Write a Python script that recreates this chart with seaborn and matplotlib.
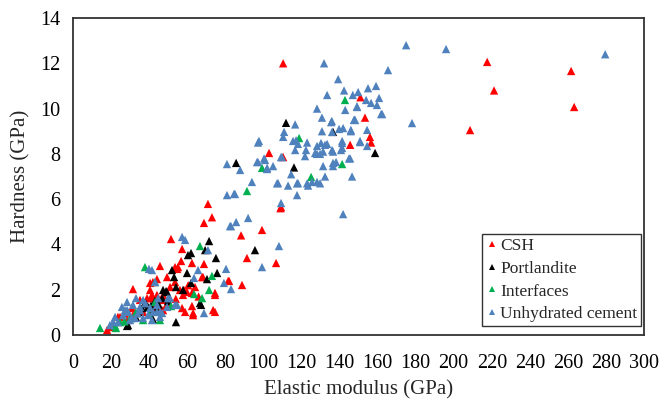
import pandas as pd
import matplotlib
matplotlib.use("Agg")
import matplotlib.pyplot as plt
import seaborn as sns

# --- data (Elastic modulus GPa, Hardness GPa) ---
csh_E = [110.4, 217.6, 221.2, 261.7, 263.3, 208.6, 153.4, 156.0, 156.6, 145.6, 151.0,
         103.0, 110.4, 109.0, 88.3, 99.3, 91.4, 106.7, 70.9, 68.8, 73.0, 51.5, 57.3,
         45.7, 56.8, 62.5, 68.8, 49.4, 55.2, 44.1, 67.8, 82.0, 88.8, 74.6, 74.6, 58.3,
         31.5, 42.0, 40.5, 17.9, 19.4, 24.7, 63.1, 73.6, 54.7, 40.5, 44.1, 47.3, 51.0,
         56.2, 57.8, 59.9, 62.5, 57.3, 58.9, 63.1, 62.5, 51.0, 47.3, 43.1, 41.5, 74.6,
         68.3, 64.1, 53.6, 21.0, 23.6, 27.3, 31.0, 35.2, 38.9, 41.5, 44.1, 45.7, 47.3,
         36.8, 31.5, 28.4, 53.6, 81.5, 109.3, 66.0, 60.5, 49.0, 54.0]
csh_H = [12.0, 12.06, 10.8, 11.66, 10.07, 9.05, 9.6, 8.75, 8.5, 8.4, 10.5,
         8.04, 7.86, 5.6, 4.4, 4.64, 3.4, 3.18, 5.79, 4.95, 5.2, 4.24, 3.8,
         3.05, 3.27, 3.18, 3.14, 2.56, 3.0, 2.47, 2.56, 2.39, 2.21, 1.86, 1.02, 1.99,
         2.03, 2.34, 2.3, 0.22, 0.35, 0.8, 0.88, 1.1, 2.92, 1.99, 1.77, 1.55, 2.12,
         1.99, 1.77, 1.9, 1.86, 1.19, 1.02, 0.97, 1.28, 1.33, 1.1, 1.24, 1.63, 1.77,
         2.56, 2.12, 2.34, 0.53, 0.8, 0.97, 1.19, 1.55, 1.63, 1.77, 1.41, 1.19, 1.77,
         1.02, 0.88, 0.66, 3.0, 2.39, 5.65, 1.7, 2.2, 1.3, 1.6]

portlandite_E = [111.9, 85.7, 116.1, 136.6, 158.7, 95.6, 71.5, 62.0, 75.1, 59.9, 70.4,
                 75.7, 52.0, 53.1, 48.9, 54.1, 62.0, 67.3, 46.8, 54.1, 69.4, 47.3, 38.4,
                 36.3, 28.9, 66.7, 49.4, 37.8, 39.4, 44.1, 34.2, 28.4, 57.8, 60.4, 41.0,
                 40.5, 43.0, 33.0, 45.0, 50.0, 42.0]
portlandite_H = [9.37, 7.6, 7.4, 8.97, 8.04, 3.75, 4.15, 3.62, 3.4, 2.74, 2.47,
                 2.74, 2.87, 2.56, 1.94, 2.12, 2.3, 1.33, 1.63, 0.57, 3.75, 1.99, 1.37,
                 1.19, 0.44, 1.41, 1.9, 1.41, 1.24, 1.1, 1.02, 0.4, 1.99, 3.53, 1.3,
                 0.9, 1.5, 0.8, 1.35, 1.5, 0.7]

interfaces_E = [142.9, 118.8, 99.3, 125.1, 141.4, 91.4, 66.7, 73.0, 71.5, 67.8, 63.6,
                51.5, 43.1, 37.8, 43.1, 14.2, 22.1, 24.7, 22.6, 36.8, 45.7, 30.0, 33.0,
                40.0, 27.0]
interfaces_H = [10.38, 8.7, 7.38, 6.98, 7.55, 6.36, 3.93, 2.61, 1.99, 1.63, 1.81,
                1.28, 1.46, 3.0, 2.34, 0.31, 0.4, 0.57, 0.31, 0.66, 0.66, 0.75, 1.0,
                0.9, 0.6]

unhydrated_E = [279.6, 196.0, 175.0, 165.5, 131.9, 139.3, 178.1, 141.9,
                133.5, 142.4, 147.0, 149.2, 128.2, 130.8, 136.0, 143.0, 147.7, 116.7, 110.9,
                110.4, 117.2, 123.0, 128.2, 132.4, 139.8, 136.1, 141.9, 97.7, 80.9, 87.8,
                96.7, 100.4, 105.1, 109.8, 121.9, 128.2, 131.4, 136.6, 141.4, 145.6, 136.6,
                131.4, 146.6, 114.6, 117.7, 113.0, 107.2, 123.0, 125.6, 129.8, 132.4, 94.0,
                80.9, 84.6, 102.0, 117.7,
                149.8, 155.0, 159.2, 154.0, 156.6, 160.8, 159.7, 161.9, 135.6, 148.2, 146.0,
                130.8, 154.5, 130.3, 141.4, 150.8, 154.5, 122.4, 136.1, 140.8, 129.8, 145.0,
                138.2, 123.5,
                97.2, 115.6, 118.2, 133.5, 116.7, 127.2, 100.9, 97.2, 109.3, 101.9, 107.7,
                118.2, 128.2, 109.3, 92.0, 85.7, 83.0, 108.2, 99.3,
                85.1, 82.5, 57.3, 58.9, 70.9, 80.4, 65.7, 63.6, 79.3, 83.0, 68.8, 41.5,
                43.1, 49.9, 54.7, 45.7, 41.5, 39.9, 33.1, 27.3, 21.0, 31.0, 35.2, 53.6,
                150.8, 162.4, 149.2, 147.7, 146.0, 141.4, 136.6,
                25.7, 28.4, 28.9, 31.5, 35.2, 36.8, 39.4, 42.0, 44.1, 44.7, 46.8, 23.6,
                22.1, 30.0, 32.6, 36.8, 26.3, 19.4, 51.0, 49.4, 28.4, 44.1, 45.7, 38.0,
                34.0, 40.5]
unhydrated_H = [12.4, 12.63, 12.8, 11.7, 12.0, 11.3, 9.36, 5.34,
                10.6, 10.8, 10.6, 10.1, 10.0, 9.6, 9.45, 9.94, 9.5, 9.3, 8.97,
                8.75, 8.6, 8.5, 8.35, 8.4, 9.1, 8.97, 9.14, 8.57, 7.55, 7.29,
                7.64, 7.8, 7.46, 7.86, 7.9, 8.0, 8.1, 8.1, 8.26, 7.8, 7.6,
                7.46, 7.0, 7.1, 6.7, 6.6, 6.7, 6.7, 6.76, 6.7, 7.0, 6.76,
                6.18, 6.23, 7.38, 6.18,
                10.73, 10.9, 11.0, 10.38, 10.25, 10.47, 10.16, 9.76, 9.4, 9.5, 9.06,
                9.0, 9.06, 8.48, 8.48, 8.52, 8.35, 8.17, 8.17, 8.17, 8.0, 7.8,
                7.64, 6.6,
                8.5, 8.57, 8.44, 8.44, 8.17, 8.04, 7.73, 7.64, 7.86, 7.33, 6.71,
                6.71, 6.76, 5.83, 5.17, 4.99, 4.81, 3.93, 3.0,
                6.23, 4.81, 4.33, 4.2, 3.75, 2.92, 2.87, 2.52, 2.3, 2.03, 0.97, 2.87,
                2.34, 1.63, 1.33, 1.02, 0.66, 2.92, 1.63, 1.1, 0.57, 0.75, 1.1, 1.33,
                8.57, 9.76, 10.07, 9.5, 9.0, 8.57, 7.46,
                1.24, 1.46, 1.02, 1.33, 1.24, 1.55, 0.88, 1.02, 1.33, 1.63, 0.97, 0.57,
                0.8, 0.66, 0.75, 0.75, 0.88, 0.44, 1.63, 1.24, 1.1, 1.02, 0.8, 1.4,
                0.95, 1.2]

series = ["CSH", "Portlandite", "Interfaces", "Unhydrated cement"]
colors = {"CSH": "#FF0000", "Portlandite": "#000000",
          "Interfaces": "#00B050", "Unhydrated cement": "#4F81BD"}

# one long table, series drawn in legend order (blue ends up on top)
frames = []
for name, xs, ys in [("CSH", csh_E, csh_H),
                     ("Portlandite", portlandite_E, portlandite_H),
                     ("Interfaces", interfaces_E, interfaces_H),
                     ("Unhydrated cement", unhydrated_E, unhydrated_H)]:
    frames.append(pd.DataFrame({"E": xs, "H": ys, "Phase": name}))
df = pd.concat(frames, ignore_index=True)

# --- plot ---
sns.set_style("white")
plt.rcParams["font.family"] = ["Liberation Serif", "DejaVu Serif"]

fig = plt.figure(figsize=(6.6, 4.03), dpi=100)
ax = fig.add_axes([0.1106, 0.1687, 0.8652, 0.7866])

sns.scatterplot(data=df, x="E", y="H", hue="Phase", hue_order=series,
                palette=colors, marker="^", s=36, linewidth=0, ax=ax)

ax.set_xlim(0, 300)
ax.set_ylim(0, 14)
ax.set_xticks(range(0, 301, 20))
ax.set_yticks(range(0, 15, 2))
ax.set_xlabel("Elastic modulus (GPa)", fontsize=15, labelpad=5)
ax.set_ylabel("Hardness (GPa)", fontsize=15, labelpad=7)
ax.tick_params(axis="x", direction="in", length=4, width=1,
               labelsize=14.5, colors="black", pad=14)
ax.tick_params(axis="y", direction="in", length=4, width=1,
               labelsize=14.5, colors="black", pad=9)
for sp in ax.spines.values():
    sp.set_color("#333333")
    sp.set_linewidth(1.3)

# legend boxed in the lower right corner
handles, labels = ax.get_legend_handles_labels()
leg = ax.legend(handles, labels, loc="lower right",
                bbox_to_anchor=(0.995, 0.028), borderaxespad=0,
                fontsize=12.5, frameon=True, fancybox=False, edgecolor="black",
                handlelength=0.7, handletextpad=0.15, labelspacing=0.38,
                borderpad=0.22, markerscale=0.75)
leg.get_frame().set_linewidth(1.0)

fig.savefig("out.png", dpi=100)
